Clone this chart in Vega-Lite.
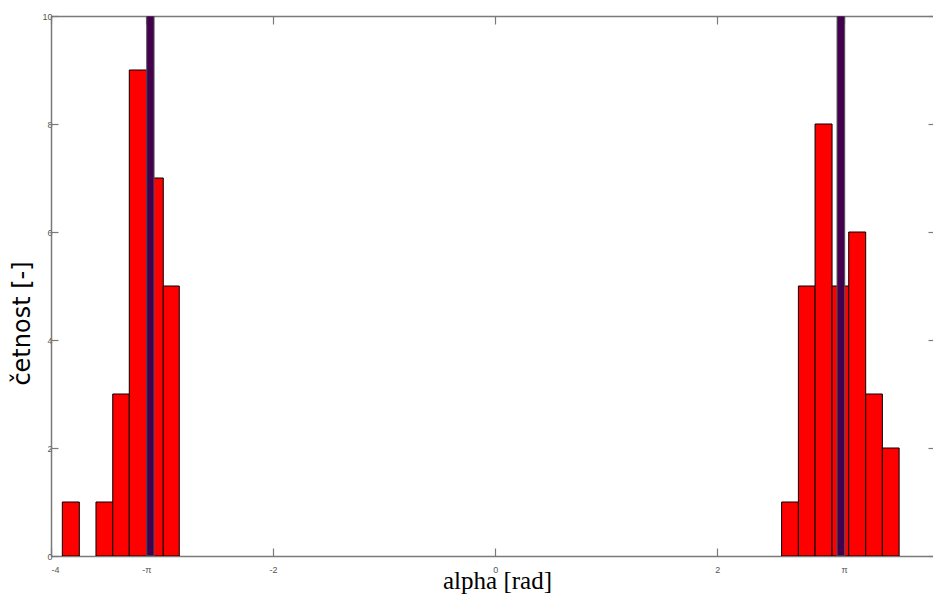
{
  "$schema": "https://vega.github.io/schema/vega-lite/v6.json",
  "autosize": {"type": "none"},
  "padding": {"left": 51, "top": 16, "right": 0, "bottom": 39},
  "width": 884,
  "height": 540,
  "background": "white",
  "config": {
    "view": {"stroke": null},
    "axis": {
      "grid": false,
      "domainColor": "#7a7a7a",
      "domainWidth": 1.5,
      "tickColor": "#7a7a7a",
      "tickWidth": 1.2,
      "labelColor": "#555555",
      "labelFont": "Liberation Sans",
      "labelFontSize": 9
    }
  },
  "datasets": {
    "bars": [
      {"x0": -3.898, "x1": -3.745, "count": 1},
      {"x0": -3.595, "x1": -3.444, "count": 1},
      {"x0": -3.444, "x1": -3.295, "count": 3},
      {"x0": -3.295, "x1": -3.138, "count": 9},
      {"x0": -3.138, "x1": -2.989, "count": 7},
      {"x0": -2.989, "x1": -2.845, "count": 5},
      {"x0": 2.579, "x1": 2.730, "count": 1},
      {"x0": 2.730, "x1": 2.880, "count": 5},
      {"x0": 2.880, "x1": 3.033, "count": 8},
      {"x0": 3.033, "x1": 3.183, "count": 5},
      {"x0": 3.183, "x1": 3.336, "count": 6},
      {"x0": 3.336, "x1": 3.486, "count": 3},
      {"x0": 3.486, "x1": 3.637, "count": 2}
    ],
    "marks": [
      {"x0": -3.138, "x1": -3.072, "count": 10},
      {"x0": 3.078, "x1": 3.147, "count": 10}
    ]
  },
  "layer": [
    {
      "data": {"name": "bars"},
      "mark": {"type": "bar", "color": "#ff0000", "stroke": "#000000", "strokeWidth": 1, "clip": true},
      "encoding": {
        "x": {
          "field": "x0", "type": "quantitative",
          "scale": {"domain": [-4, 3.96], "nice": false, "zero": false},
          "axis": {
            "orient": "bottom",
            "values": [-4, -3.14159265, -2, 0, 2, 3.14159265],
            "labelExpr": "abs(abs(datum.value) - PI) < 0.01 ? (datum.value < 0 ? '-π' : 'π') : ('' + round(datum.value))",
            "tickSize": -8,
            "labelPadding": 17,
            "title": "alpha [rad]",
            "titleFont": "Liberation Serif",
            "titleFontSize": 25,
            "titleFontWeight": "normal",
            "titleColor": "#000000",
            "titleX": 446,
            "titleY": 32,
            "titleAlign": "center",
            "titleBaseline": "alphabetic"
          }
        },
        "x2": {"field": "x1"},
        "y": {
          "field": "count", "type": "quantitative",
          "scale": {"domain": [0, 10], "nice": false},
          "axis": {
            "orient": "left",
            "values": [0, 2, 4, 6, 8, 10],
            "tickSize": -7,
            "labelPadding": 6,
            "title": "četnost  [-]",
            "titleFont": "DejaVu Sans",
            "titleFontSize": 24,
            "titleFontWeight": "normal",
            "titleColor": "#000000",
            "titleAngle": 270,
            "titleX": -29,
            "titleY": 307,
            "titleAlign": "center",
            "titleBaseline": "middle"
          }
        },
        "y2": {"datum": 0}
      }
    },
    {
      "data": {"name": "marks"},
      "mark": {"type": "bar", "color": "#43004f", "stroke": "#555555", "strokeWidth": 1, "clip": true},
      "encoding": {
        "x": {
          "field": "x0", "type": "quantitative",
          "axis": {
            "orient": "top",
            "values": [-4, -3.14159265, -2, 0, 2, 3.14159265],
            "labels": false,
            "tickSize": -8,
            "title": null
          }
        },
        "x2": {"field": "x1"},
        "y": {
          "field": "count", "type": "quantitative",
          "axis": {
            "orient": "right",
            "values": [0, 2, 4, 6, 8, 10],
            "labels": false,
            "tickSize": -7,
            "title": null
          }
        },
        "y2": {"datum": 0}
      }
    }
  ],
  "resolve": {"axis": {"x": "independent", "y": "independent"}}
}
